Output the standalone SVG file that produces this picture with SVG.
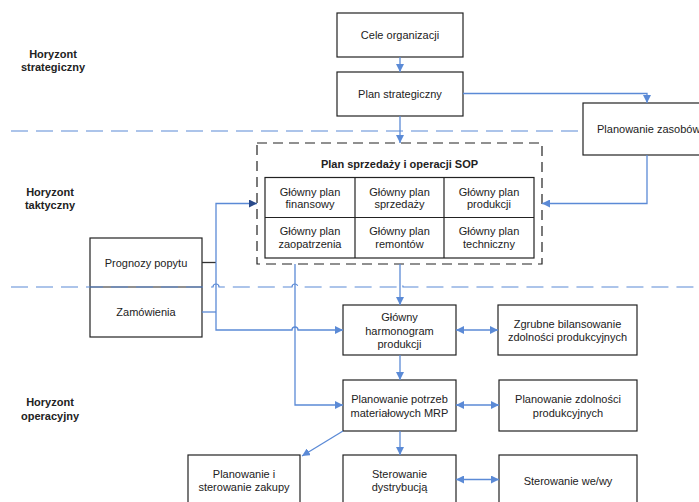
<svg xmlns="http://www.w3.org/2000/svg" width="699" height="502" viewBox="0 0 699 502">
<style>
.box{fill:#fff;stroke:#222;stroke-width:1.2}
.t{font-family:"Liberation Sans",Arial,sans-serif;font-size:11px;fill:#222;text-anchor:middle}
.b{font-weight:bold}
.c{fill:none;stroke:#5b8ad6;stroke-width:1.3}
.dash{fill:none;stroke:#5b8ad6;stroke-width:1.2;stroke-dasharray:17 8}
.sop{fill:none;stroke:#222;stroke-width:1.2;stroke-dasharray:10 6}
</style>
<defs>
<marker id="ah" viewBox="0 0 10 10" refX="10" refY="5" markerWidth="8" markerHeight="8" markerUnits="userSpaceOnUse" orient="auto-start-reverse">
<path d="M0,0 L10,5 L0,10 Z" fill="#5b8ad6"/>
</marker>
<marker id="ahd" viewBox="0 0 10 10" refX="10" refY="5" markerWidth="8" markerHeight="8" markerUnits="userSpaceOnUse" orient="auto">
<path d="M0,0 L10,5 L0,10 Z" fill="#2a4a8a"/>
</marker>
</defs>
<rect width="699" height="502" fill="#fff"/>

<g id="labels">
<text class="t b" x="53" y="58">Horyzont</text>
<text class="t b" x="53" y="71">strategiczny</text>
<text class="t b" x="50" y="196">Horyzont</text>
<text class="t b" x="50" y="209">taktyczny</text>
<text class="t b" x="50" y="406">Horyzont</text>
<text class="t b" x="50" y="420">operacyjny</text>
</g>

<g id="n-prognozy">
<rect class="box" x="90" y="238" width="112" height="99"/>
<line x1="90" y1="287" x2="202" y2="287" stroke="#222" stroke-width="1.2"/>
<text class="t" x="146" y="267">Prognozy popytu</text>
<text class="t" x="146" y="316">Zamówienia</text>
</g>

<g id="horizons">
<path class="dash" d="M11,131 H583"/>
<path class="dash" d="M11,287 H213 a3,3 0 0 1 6,0 H292 a3,3 0 0 1 6,0 H397 a3,3 0 0 1 6,0 H699"/>
</g>

<g id="n-cele">
<rect class="box" x="337" y="13" width="126" height="44"/>
<text class="t" x="400" y="39">Cele organizacji</text>
</g>
<g id="n-strategiczny">
<rect class="box" x="337" y="72" width="126" height="44"/>
<text class="t" x="400" y="98">Plan strategiczny</text>
</g>
<g id="n-zasoby">
<rect class="box" x="583" y="103" width="140" height="52"/>
<text class="t" x="597" y="133" style="text-anchor:start">Planowanie zasobów</text>
</g>

<g id="n-sop">
<rect class="sop" x="257" y="143" width="285" height="121"/>
<text class="t b" x="399.5" y="168">Plan sprzedaży i operacji SOP</text>
<rect class="box" x="265" y="177.5" width="269" height="80.5"/>
<line x1="355" y1="177.5" x2="355" y2="258" stroke="#222" stroke-width="1.2"/>
<line x1="444" y1="177.5" x2="444" y2="258" stroke="#222" stroke-width="1.2"/>
<line x1="265" y1="217.5" x2="534" y2="217.5" stroke="#222" stroke-width="1.2"/>
<text class="t" x="310" y="195.5">Główny plan</text>
<text class="t" x="310" y="208">finansowy</text>
<text class="t" x="399.5" y="195.5">Główny plan</text>
<text class="t" x="399.5" y="208">sprzedaży</text>
<text class="t" x="489" y="195.5">Główny plan</text>
<text class="t" x="489" y="208">produkcji</text>
<text class="t" x="310" y="234.5">Główny plan</text>
<text class="t" x="310" y="248">zaopatrzenia</text>
<text class="t" x="399.5" y="234.5">Główny plan</text>
<text class="t" x="399.5" y="248">remontów</text>
<text class="t" x="489" y="234.5">Główny plan</text>
<text class="t" x="489" y="248">techniczny</text>
</g>

<g id="n-harmonogram">
<rect class="box" x="343" y="305" width="113" height="50"/>
<text class="t" x="399.5" y="321">Główny</text>
<text class="t" x="399.5" y="335">harmonogram</text>
<text class="t" x="399.5" y="348">produkcji</text>
</g>
<g id="n-zgrubne">
<rect class="box" x="498" y="305" width="139" height="50"/>
<text class="t" x="567.5" y="328">Zgrubne bilansowanie</text>
<text class="t" x="567.5" y="341">zdolności produkcyjnych</text>
</g>
<g id="n-mrp">
<rect class="box" x="343" y="380" width="113" height="51"/>
<text class="t" x="399.5" y="403">Planowanie potrzeb</text>
<text class="t" x="399.5" y="417">materiałowych MRP</text>
</g>
<g id="n-zdolnosci">
<rect class="box" x="499" y="380" width="138" height="51"/>
<text class="t" x="568" y="403">Planowanie zdolności</text>
<text class="t" x="568" y="417">produkcyjnych</text>
</g>
<g id="n-zakupy">
<rect class="box" x="188" y="455" width="112" height="55"/>
<text class="t" x="244" y="478">Planowanie i</text>
<text class="t" x="244" y="491">sterowanie zakupy</text>
</g>
<g id="n-dystrybucja">
<rect class="box" x="343" y="455" width="113" height="55"/>
<text class="t" x="399.5" y="478">Sterowanie</text>
<text class="t" x="399.5" y="491">dystrybucją</text>
</g>
<g id="n-wewy">
<rect class="box" x="499" y="455" width="138" height="55"/>
<text class="t" x="568" y="485">Sterowanie we/wy</text>
</g>

<g id="connectors">
<path class="c" d="M400,57 V72" marker-end="url(#ah)"/>
<path class="c" d="M400,116 V143" marker-end="url(#ah)"/>
<path class="c" d="M463,93.5 H647 V103" marker-end="url(#ah)"/>
<path class="c" d="M647,155 V203.5 H542" marker-end="url(#ah)"/>
<path d="M202,262.5 H216" fill="none" stroke="#333" stroke-width="1.3"/>
<path class="c" d="M216,262.5 V203.5 H257" marker-end="url(#ahd)"/>
<path class="c" d="M202,312 H216"/>
<path class="c" d="M216,262.5 V330 H292 a3,3 0 0 1 6,0 H343" marker-end="url(#ah)"/>
<path class="c" d="M295,264 V405 H343" marker-end="url(#ah)"/>
<path class="c" d="M400,264 V305" marker-end="url(#ah)"/>
<path class="c" d="M456,330 H498" marker-start="url(#ah)" marker-end="url(#ah)"/>
<path class="c" d="M400,355 V380" marker-end="url(#ah)"/>
<path class="c" d="M456,405 H499" marker-start="url(#ah)" marker-end="url(#ah)"/>
<path class="c" d="M400,431 V455" marker-end="url(#ah)"/>
<path class="c" d="M343,431 L302,456" marker-end="url(#ah)"/>
<path class="c" d="M456,479.5 H499" marker-start="url(#ah)" marker-end="url(#ah)"/>
</g>
</svg>
